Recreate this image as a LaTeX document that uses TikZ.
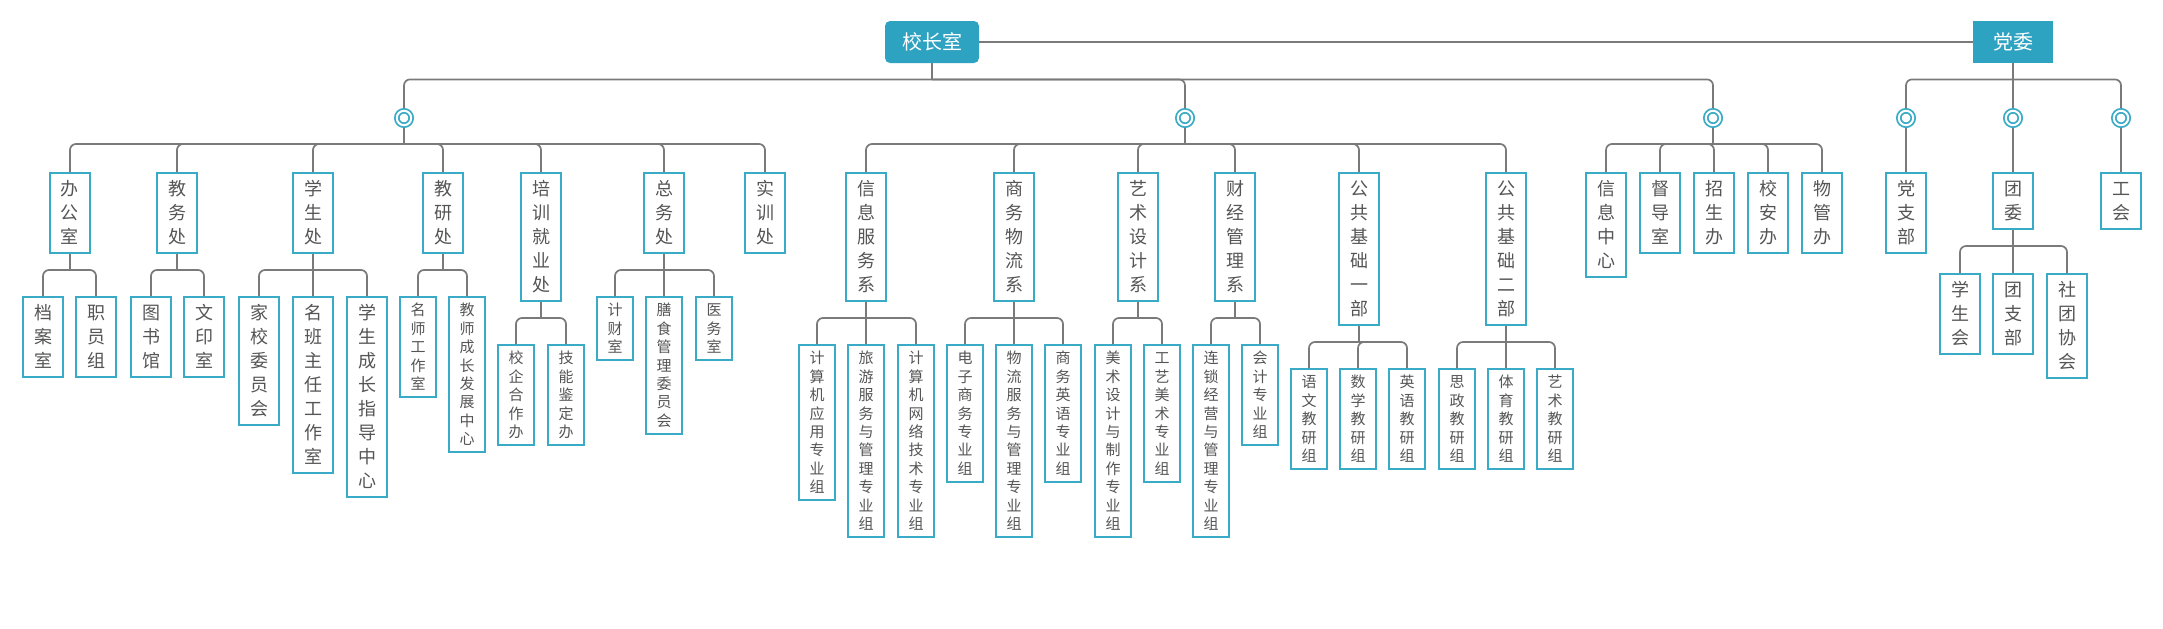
\documentclass[tikz,border=0pt]{standalone}
\usepackage{fontspec}
\setmainfont{Noto Sans CJK SC}
\definecolor{hdcol}{HTML}{2EA3C1}
\definecolor{bdcol}{HTML}{3AABC6}
\definecolor{txtcol}{HTML}{555555}
\definecolor{lncol}{HTML}{7A7A7A}

\def\vstkend{}
\def\vstrut{}
\newcommand\vstk[1]{\vstkgo#1\vstkend}
\def\vstkgo#1#2\vstkend{\vstrut#1\ifx\vstkend#2\vstkend\expandafter\vstkstop\else\expandafter\vstknext\fi{#2}}
\def\vstkstop#1{}
\def\vstknext#1{\\\vstkgo#1\vstkend}

\tikzset{
  link/.style={draw=lncol, line width=0.85pt, rounded corners=3pt},
  head/.style={fill=hdcol, text=white, font=\fontsize{10}{12}\selectfont, minimum height=21pt, inner sep=0pt},
  hub/.style={circle, draw=bdcol, line width=0.9pt, double=white, double distance=1pt, fill=white, minimum size=7.2pt, inner sep=0pt, outer sep=1.4pt},
  unit/.style={draw=bdcol, line width=1pt, fill=white, text=txtcol, anchor=north, align=center, minimum width=20pt, inner xsep=0pt, inner ysep=2pt, font=\fontsize{9}{12}\selectfont, execute at begin node={\def\vstrut{\rule[-2.6pt]{0pt}{12pt}}}},
  subunit/.style={unit, minimum width=18pt, font=\fontsize{7.5}{9.2}\selectfont, execute at begin node={\def\vstrut{\rule[-1.75pt]{0pt}{9.2pt}}}},
}

\begin{document}
\begin{tikzpicture}[x=0.5pt, y=-0.5pt]
  \useasboundingbox (0,0) rectangle (2163,628);
  \node[head, rounded corners=2.5pt, minimum width=47pt] (xzs) at (932,42) {校长室};
  \node[head, minimum width=40pt] (dw) at (2013,42) {党委};

  \node[hub] (c1) at (404,118) {};
  \node[hub] (c2) at (1185,118) {};
  \node[hub] (c3) at (1713,118) {};
  \node[hub] (d1) at (1906,118) {};
  \node[hub] (d2) at (2013,118) {};
  \node[hub] (d3) at (2121,118) {};

  \node[unit] (bgs) at (70,172) {\vstk{办公室}};
  \node[unit] (jwc) at (177,172) {\vstk{教务处}};
  \node[unit] (xsc) at (313,172) {\vstk{学生处}};
  \node[unit] (jyc) at (443,172) {\vstk{教研处}};
  \node[unit] (pxc) at (541,172) {\vstk{培训就业处}};
  \node[unit] (zwc) at (664,172) {\vstk{总务处}};
  \node[unit] (sxc) at (765,172) {\vstk{实训处}};
  \node[unit] (xxx) at (866,172) {\vstk{信息服务系}};
  \node[unit] (swx) at (1014,172) {\vstk{商务物流系}};
  \node[unit] (ysx) at (1138,172) {\vstk{艺术设计系}};
  \node[unit] (cjx) at (1235,172) {\vstk{财经管理系}};
  \node[unit] (gj1) at (1359,172) {\vstk{公共基础一部}};
  \node[unit] (gj2) at (1506,172) {\vstk{公共基础二部}};
  \node[unit] (xxzx) at (1606,172) {\vstk{信息中心}};
  \node[unit] (ddt) at (1660,172) {\vstk{督导室}};
  \node[unit] (zsb) at (1714,172) {\vstk{招生办}};
  \node[unit] (xab) at (1768,172) {\vstk{校安办}};
  \node[unit] (wgb) at (1822,172) {\vstk{物管办}};
  \node[unit] (dzb) at (1906,172) {\vstk{党支部}};
  \node[unit] (twy) at (2013,172) {\vstk{团委}};
  \node[unit] (gh) at (2121,172) {\vstk{工会}};

  \node[unit] (das) at (43,296) {\vstk{档案室}};
  \node[unit] (zyz) at (96,296) {\vstk{职员组}};
  \node[unit] (tsg) at (151,296) {\vstk{图书馆}};
  \node[unit] (wys) at (204,296) {\vstk{文印室}};
  \node[unit] (jxw) at (259,296) {\vstk{家校委员会}};
  \node[unit] (mbz) at (313,296) {\vstk{名班主任工作室}};
  \node[unit] (xcz) at (367,296) {\vstk{学生成长指导中心}};
  \node[subunit] (msg) at (418,296) {\vstk{名师工作室}};
  \node[subunit] (jsf) at (467,296) {\vstk{教师成长发展中心}};
  \node[subunit] (xqh) at (516,344) {\vstk{校企合作办}};
  \node[subunit] (jnj) at (566,344) {\vstk{技能鉴定办}};
  \node[subunit] (jcs) at (615,296) {\vstk{计财室}};
  \node[subunit] (ssg) at (664,296) {\vstk{膳食管理委员会}};
  \node[subunit] (yws) at (714,296) {\vstk{医务室}};
  \node[subunit] (jsy) at (817,344) {\vstk{计算机应用专业组}};
  \node[subunit] (lyf) at (866,344) {\vstk{旅游服务与管理专业组}};
  \node[subunit] (jsw) at (916,344) {\vstk{计算机网络技术专业组}};
  \node[subunit] (dzs) at (965,344) {\vstk{电子商务专业组}};
  \node[subunit] (wlf) at (1014,344) {\vstk{物流服务与管理专业组}};
  \node[subunit] (swy) at (1063,344) {\vstk{商务英语专业组}};
  \node[subunit] (msj) at (1113,344) {\vstk{美术设计与制作专业组}};
  \node[subunit] (gym) at (1162,344) {\vstk{工艺美术专业组}};
  \node[subunit] (lsj) at (1211,344) {\vstk{连锁经营与管理专业组}};
  \node[subunit] (kjz) at (1260,344) {\vstk{会计专业组}};
  \node[subunit] (ywj) at (1309,368) {\vstk{语文教研组}};
  \node[subunit] (sxj) at (1358,368) {\vstk{数学教研组}};
  \node[subunit] (yyj) at (1407,368) {\vstk{英语教研组}};
  \node[subunit] (szj) at (1457,368) {\vstk{思政教研组}};
  \node[subunit] (tyj) at (1506,368) {\vstk{体育教研组}};
  \node[subunit] (ysj) at (1555,368) {\vstk{艺术教研组}};
  \node[unit] (xsh) at (1960,273) {\vstk{学生会}};
  \node[unit] (tzb) at (2013,273) {\vstk{团支部}};
  \node[unit] (stx) at (2067,273) {\vstk{社团协会}};

  \draw[link] (xzs) -- (dw);
  \draw[link] (xzs.south) -- ++(0,16);
  \foreach \c in {c1,c2,c3} \draw[link] (xzs.south) ++(0,16) -| (\c.north);
  \draw[link] (dw.south) -- ++(0,16);
  \foreach \c in {d1,d2,d3} \draw[link] (dw.south) ++(0,16) -| (\c.north);

  \draw[link] (c1.south) -- ++(0,16);
  \foreach \c in {bgs,jwc,xsc,jyc,pxc,zwc,sxc} \draw[link] (c1.south) ++(0,16) -| (\c.north);
  \draw[link] (c2.south) -- ++(0,16);
  \foreach \c in {xxx,swx,ysx,cjx,gj1,gj2} \draw[link] (c2.south) ++(0,16) -| (\c.north);
  \draw[link] (c3.south) -- ++(0,16);
  \foreach \c in {xxzx,ddt,zsb,xab,wgb} \draw[link] (c3.south) ++(0,16) -| (\c.north);
  \draw[link] (d1.south) -- (dzb.north);
  \draw[link] (d2.south) -- (twy.north);
  \draw[link] (d3.south) -- (gh.north);

  \draw[link] (bgs.south) -- ++(0,16);
  \foreach \c in {das,zyz} \draw[link] (bgs.south) ++(0,16) -| (\c.north);
  \draw[link] (jwc.south) -- ++(0,16);
  \foreach \c in {tsg,wys} \draw[link] (jwc.south) ++(0,16) -| (\c.north);
  \draw[link] (xsc.south) -- ++(0,16);
  \foreach \c in {jxw,mbz,xcz} \draw[link] (xsc.south) ++(0,16) -| (\c.north);
  \draw[link] (jyc.south) -- ++(0,16);
  \foreach \c in {msg,jsf} \draw[link] (jyc.south) ++(0,16) -| (\c.north);
  \draw[link] (pxc.south) -- ++(0,16);
  \foreach \c in {xqh,jnj} \draw[link] (pxc.south) ++(0,16) -| (\c.north);
  \draw[link] (zwc.south) -- ++(0,16);
  \foreach \c in {jcs,ssg,yws} \draw[link] (zwc.south) ++(0,16) -| (\c.north);
  \draw[link] (xxx.south) -- ++(0,16);
  \foreach \c in {jsy,lyf,jsw} \draw[link] (xxx.south) ++(0,16) -| (\c.north);
  \draw[link] (swx.south) -- ++(0,16);
  \foreach \c in {dzs,wlf,swy} \draw[link] (swx.south) ++(0,16) -| (\c.north);
  \draw[link] (ysx.south) -- ++(0,16);
  \foreach \c in {msj,gym} \draw[link] (ysx.south) ++(0,16) -| (\c.north);
  \draw[link] (cjx.south) -- ++(0,16);
  \foreach \c in {lsj,kjz} \draw[link] (cjx.south) ++(0,16) -| (\c.north);
  \draw[link] (gj1.south) -- ++(0,16);
  \foreach \c in {ywj,sxj,yyj} \draw[link] (gj1.south) ++(0,16) -| (\c.north);
  \draw[link] (gj2.south) -- ++(0,16);
  \foreach \c in {szj,tyj,ysj} \draw[link] (gj2.south) ++(0,16) -| (\c.north);
  \draw[link] (twy.south) -- ++(0,16);
  \foreach \c in {xsh,tzb,stx} \draw[link] (twy.south) ++(0,16) -| (\c.north);
\end{tikzpicture}
\end{document}
